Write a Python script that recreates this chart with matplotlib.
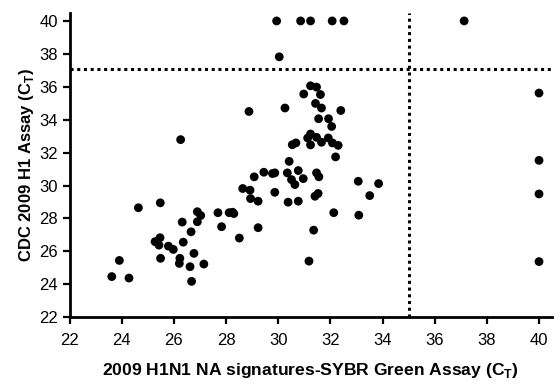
import matplotlib
matplotlib.use("Agg")
import matplotlib.pyplot as plt

plt.rcParams['font.family'] = ['Liberation Sans', 'DejaVu Sans']
plt.rcParams['mathtext.fontset'] = 'custom'
plt.rcParams['mathtext.rm'] = 'Liberation Sans'
plt.rcParams['mathtext.bf'] = 'Liberation Sans:bold'

sybr_ct = [
    29.94, 30.86, 31.24, 32.07, 32.52, 37.13, 30.04,
    31.24, 31.47, 30.98, 31.62, 30.26, 31.43, 31.66, 32.40, 31.55, 31.93, 32.05,
    31.24, 31.13, 31.47, 31.66, 31.24, 31.92, 32.08, 32.30, 30.54, 30.68, 32.20,
    30.42, 29.87, 30.35, 30.77, 30.51, 30.96, 31.47, 31.56, 33.07, 33.85, 29.87,
    31.41, 31.53, 33.51, 30.38, 30.77, 32.13, 33.09, 31.36, 31.18,
    40.0, 40.0, 40.0, 40.0,
    29.45, 29.78, 29.08, 30.64, 28.64, 28.92, 28.94, 29.23, 28.25, 29.23, 28.51,
    28.88,
    24.64, 25.48, 26.32, 26.90, 27.03, 26.90, 27.69, 28.12, 28.30, 27.83,
    26.66, 26.36, 25.28, 25.47, 25.43, 25.79, 25.98, 25.49, 26.23, 26.21,
    26.77, 26.62, 27.15, 26.68, 23.91, 23.62, 24.28, 26.26,
]
cdc_ct = [
    40.0, 40.0, 40.0, 40.0, 40.0, 40.0, 37.82,
    36.06, 35.98, 35.56, 35.53, 34.71, 34.99, 34.71, 34.56, 34.06, 34.06, 33.59,
    33.13, 32.89, 32.93, 32.63, 32.47, 32.89, 32.59, 32.44, 32.48, 32.59, 31.74,
    31.47, 30.77, 30.77, 30.91, 30.36, 30.42, 30.77, 30.53, 30.26, 30.12, 29.59,
    29.35, 29.52, 29.39, 28.99, 29.05, 28.35, 28.20, 27.29, 25.41,
    35.62, 31.53, 29.49, 25.38,
    30.81, 30.73, 30.53, 30.06, 29.82, 29.72, 29.21, 29.05, 28.38, 27.44, 26.81,
    34.50,
    28.65, 28.95, 27.78, 28.41, 28.18, 27.80, 28.35, 28.35, 28.30, 27.50,
    27.19, 26.56, 26.59, 26.83, 26.38, 26.32, 26.12, 25.58, 25.58, 25.27,
    25.88, 25.07, 25.23, 24.18, 25.45, 24.47, 24.38, 32.79,
]
x_ticks = [22, 24, 26, 28, 30, 32, 34, 36, 38, 40]
y_ticks = [22, 24, 26, 28, 30, 32, 34, 36, 38, 40]
x_cutoff = 35.0
y_cutoff = 37.1

fig = plt.figure(figsize=(5.54, 3.85), dpi=100)
ax = fig.add_axes([0.1255, 0.176, 0.871, 0.791])
ax.scatter(sybr_ct, cdc_ct, s=40, color='black', edgecolors='none', zorder=3, clip_on=False)
ax.axhline(y_cutoff, color='black', linestyle=(0, (1, 1.2)), linewidth=2.2, zorder=2)
ax.axvline(x_cutoff, color='black', linestyle=(0, (1, 1.2)), linewidth=2.2, zorder=2)

ax.set_xlim(22, 40.5)
ax.set_ylim(22, 40.5)
ax.set_xticks(x_ticks)
ax.set_yticks(y_ticks)
ax.tick_params(direction='out', length=5.2, width=1.6, labelsize=12, colors='black')
ax.tick_params(axis='x', pad=6)
ax.tick_params(axis='y', pad=3)
for s in ['top', 'right']:
    ax.spines[s].set_visible(False)
for s in ['left', 'bottom']:
    ax.spines[s].set_linewidth(2)
ax.spines['left'].set_bounds(22, 40.5)
ax.spines['bottom'].set_bounds(22, 40.5)

ax.set_xlabel(r'2009 H1N1 NA signatures-SYBR Green Assay (C$_\mathbf{T}$)', fontsize=12.6,
              fontweight='bold', va='center')
ax.xaxis.set_label_coords(0.5, -0.176)
ax.set_ylabel(r'CDC 2009 H1 Assay (C$_\mathbf{T}$)', fontsize=12, fontweight='bold', va='center')
ax.yaxis.set_label_coords(-0.089, 0.5)

fig.savefig('out.png', dpi=100)
